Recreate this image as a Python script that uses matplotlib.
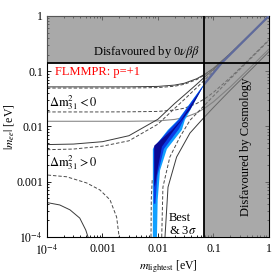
import matplotlib
matplotlib.use("Agg")
import matplotlib.pyplot as plt
import numpy as np

plt.rcParams["font.family"] = "serif"
plt.rcParams["font.serif"] = ["Liberation Serif", "DejaVu Serif"]
plt.rcParams["mathtext.fontset"] = "stix"

# grid of lightest masses [eV] used by the bound curves
m_grid = [1e-4, 3e-4, 1e-3, 3e-3, 1e-2, 2e-2, 3e-2, 5e-2, 7e-2, 0.1, 0.2, 0.5, 1.0]

# inverted ordering (Delta m^2_31 < 0)
ih_best_up = [0.0495, 0.0495, 0.0495, 0.0496, 0.0505, 0.0534, 0.058, 0.0705, 0.086, 0.111, 0.206, 0.502, 1.0]
ih_3s_up = [0.052, 0.052, 0.052, 0.0521, 0.053, 0.056, 0.0605, 0.073, 0.088, 0.113, 0.208, 0.505, 1.005]
ih_best_lo = [0.0183, 0.0183, 0.0183, 0.0184, 0.0187, 0.0198, 0.0214, 0.026, 0.0318, 0.0413, 0.0762, 0.186, 0.37]
ih_3s_lo = [0.0124, 0.0124, 0.0124, 0.0124, 0.0126, 0.0134, 0.0145, 0.0176, 0.0215, 0.0279, 0.0515, 0.126, 0.25]

# normal ordering (Delta m^2_31 > 0), upper bounds
nh_best_up = [0.0038, 0.0039, 0.0044, 0.0055, 0.011, 0.0212, 0.0309, 0.0504, 0.0702, 0.100, 0.200, 0.500, 1.0]
nh_3s_up = [0.0047, 0.0048, 0.0053, 0.0068, 0.0135, 0.026, 0.037, 0.058, 0.079, 0.107, 0.205, 0.505, 1.0]

# normal ordering lower bounds (two branches each, cancellation in between)
nh_best_lo1_m = [1.03e-4, 2.26e-4, 5.2e-4, 9.0e-4, 1.37e-3, 1.80e-3, 2.0e-3]
nh_best_lo1 = [1.32e-3, 1.23e-3, 9.5e-4, 7.1e-4, 4.7e-4, 2.3e-4, 1e-4]
nh_best_lo2_m = [0.0117, 0.0123, 0.0164, 0.025, 0.038, 0.07, 0.1, 0.2, 0.5, 1.0]
nh_best_lo2 = [1e-4, 0.0008, 0.0028, 0.0065, 0.013, 0.0245, 0.0355, 0.072, 0.18, 0.36]
nh_3s_lo1_m = [1e-4, 1.7e-4, 2.6e-4, 3.9e-4, 5.0e-4, 5.5e-4]
nh_3s_lo1 = [4.2e-4, 3.8e-4, 3.1e-4, 2.2e-4, 1.34e-4, 1e-4]
nh_3s_lo2_m = [0.0134, 0.0152, 0.0217, 0.0378, 0.0616, 0.1, 0.2, 0.5, 1.0]
nh_3s_lo2 = [1e-4, 0.0008, 0.0028, 0.0076, 0.0131, 0.022, 0.045, 0.112, 0.225]
edge_m = [0.0075, 0.0076, 0.0079]
edge_y = [1e-4, 5e-4, 1.1e-3]

# FLMMPR prediction band (outer, middle, inner)
band_out_m = [0.0703, 0.0229, 0.0151, 0.0081, 0.0081, 0.0096, 0.0099, 0.0109, 0.0145, 0.027, 0.0306, 0.0703]
band_out_y = [0.0613, 0.0131, 0.00865, 0.0039, 1e-4, 1e-4, 0.00047, 0.0016, 0.0039, 0.00865, 0.0131, 0.0613]
band_mid_m = [0.0703, 0.0235, 0.0158, 0.0084, 0.0084, 0.0090, 0.0098, 0.0128, 0.024, 0.031, 0.0703]
band_mid_y = [0.0613, 0.0131, 0.00865, 0.0042, 0.0004, 0.0004, 0.0013, 0.0039, 0.0090, 0.015, 0.0613]
band_in_m = [0.0703, 0.026, 0.018, 0.0086, 0.0086, 0.0088, 0.0100, 0.0118, 0.0205, 0.038, 0.0703]
band_in_y = [0.060, 0.0131, 0.00865, 0.0045, 0.0009, 0.0008, 0.0018, 0.0043, 0.0092, 0.020, 0.060]
band_line_m = [0.0703, 0.14, 1.0]
band_line_y = [0.060, 0.14, 1.0]

# experimental limits
lim_0vbb = 0.14
lim_cosmo = 0.069

fig = plt.figure(figsize=(2.73, 2.74), dpi=100)
ax = fig.add_axes([0.172, 0.135, 0.813, 0.807])
ax.set_xscale("log")
ax.set_yscale("log")
ax.set_xlim(1e-4, 1)
ax.set_ylim(1e-4, 1)

sol = dict(color="#3a3a3a", lw=0.7, zorder=2)
das = dict(color="#4a4a4a", lw=0.7, ls=(0, (3.5, 2)), zorder=2)

ax.plot(m_grid, ih_3s_up, **sol)
ax.plot(m_grid, ih_best_up, **das)
ax.plot(m_grid, ih_best_lo, **das)
ax.plot(m_grid, ih_3s_lo, color="#8a8a8a", lw=0.8, zorder=2)
ax.plot(m_grid, nh_3s_up, **sol)
ax.plot(m_grid, nh_best_up, **das)
ax.plot(nh_best_lo1_m, nh_best_lo1, **das)
ax.plot(nh_best_lo2_m, nh_best_lo2, **das)
ax.plot(nh_3s_lo1_m, nh_3s_lo1, **sol)
ax.plot(nh_3s_lo2_m, nh_3s_lo2, **sol)
ax.plot(edge_m, edge_y, **das)

# model band
ax.fill(band_out_m, band_out_y, color="#12a0ff", lw=0, zorder=3)
ax.fill(band_mid_m, band_mid_y, color="#0a3ce6", lw=0, zorder=3)
ax.fill(band_in_m, band_in_y, color="#0a0a96", lw=0, zorder=3)
ax.plot(band_line_m, band_line_y, color="#1a3fd8", lw=1.6, zorder=3)

# disfavoured regions (one L-shaped patch so the corner is not darker)
shade_x = [1e-4, lim_cosmo, lim_cosmo, 1, 1, 1e-4]
shade_y = [lim_0vbb, lim_0vbb, 1e-4, 1e-4, 1, 1]
ax.fill(shade_x, shade_y, color="gray", alpha=0.68, lw=0, zorder=4)
ax.axhline(lim_0vbb, color="black", lw=1.3, zorder=5)
ax.axvline(lim_cosmo, color="black", lw=1.3, zorder=5)

fs = 9
ax.text(0.0063, 0.225, r"Disfavoured by 0$\nu\beta\beta$", fontsize=fs,
        ha="center", va="center", zorder=6)
ax.text(0.385, 0.0043, "Disfavoured by Cosmology", fontsize=fs, rotation=90,
        ha="center", va="center", zorder=6)
ax.text(1.39e-4, 0.097, "FLMMPR: p=+1", color="red", fontsize=fs,
        ha="left", va="center", zorder=6)
ax.text(1.09e-4, 0.0266, r"$\Delta\mathrm{m}^2_{31} < 0$", fontsize=fs,
        ha="left", va="center", zorder=6)
ax.text(1.1e-4, 0.0022, r"$\Delta\mathrm{m}^2_{31} > 0$", fontsize=fs,
        ha="left", va="center", zorder=6)
ax.text(0.0158, 2.2e-4, "Best", fontsize=fs, ha="left", va="center", zorder=6)
ax.text(0.0158, 1.28e-4, r"& 3$\sigma$", fontsize=fs, ha="left", va="center", zorder=6)

ticks = [1e-4, 1e-3, 1e-2, 1e-1, 1]
tick_labels = [r"$10^{-4}$", "0.001", "0.01", "0.1", "1"]
ax.set_xticks(ticks)
ax.set_xticklabels(tick_labels)
ax.set_yticks(ticks)
ax.set_yticklabels(tick_labels)
ax.tick_params(which="both", direction="in", top=True, right=True, labelsize=8.5, width=0.6)
ax.tick_params(which="major", length=3)
ax.tick_params(which="minor", length=1.5)
ax.tick_params(axis="x", which="major", pad=4.5)
ax.tick_params(axis="y", which="major", pad=3)
for s in ax.spines.values():
    s.set_linewidth(0.8)

ax.set_xlabel(r"$m_\mathrm{lightest}$ [eV]", fontsize=8.5)
ax.xaxis.set_label_coords(0.545, -0.098)
ax.set_ylabel(r"$|m_{ee}|$ [eV]", fontsize=8.5, labelpad=0)

fig.savefig("out.png", dpi=100)
